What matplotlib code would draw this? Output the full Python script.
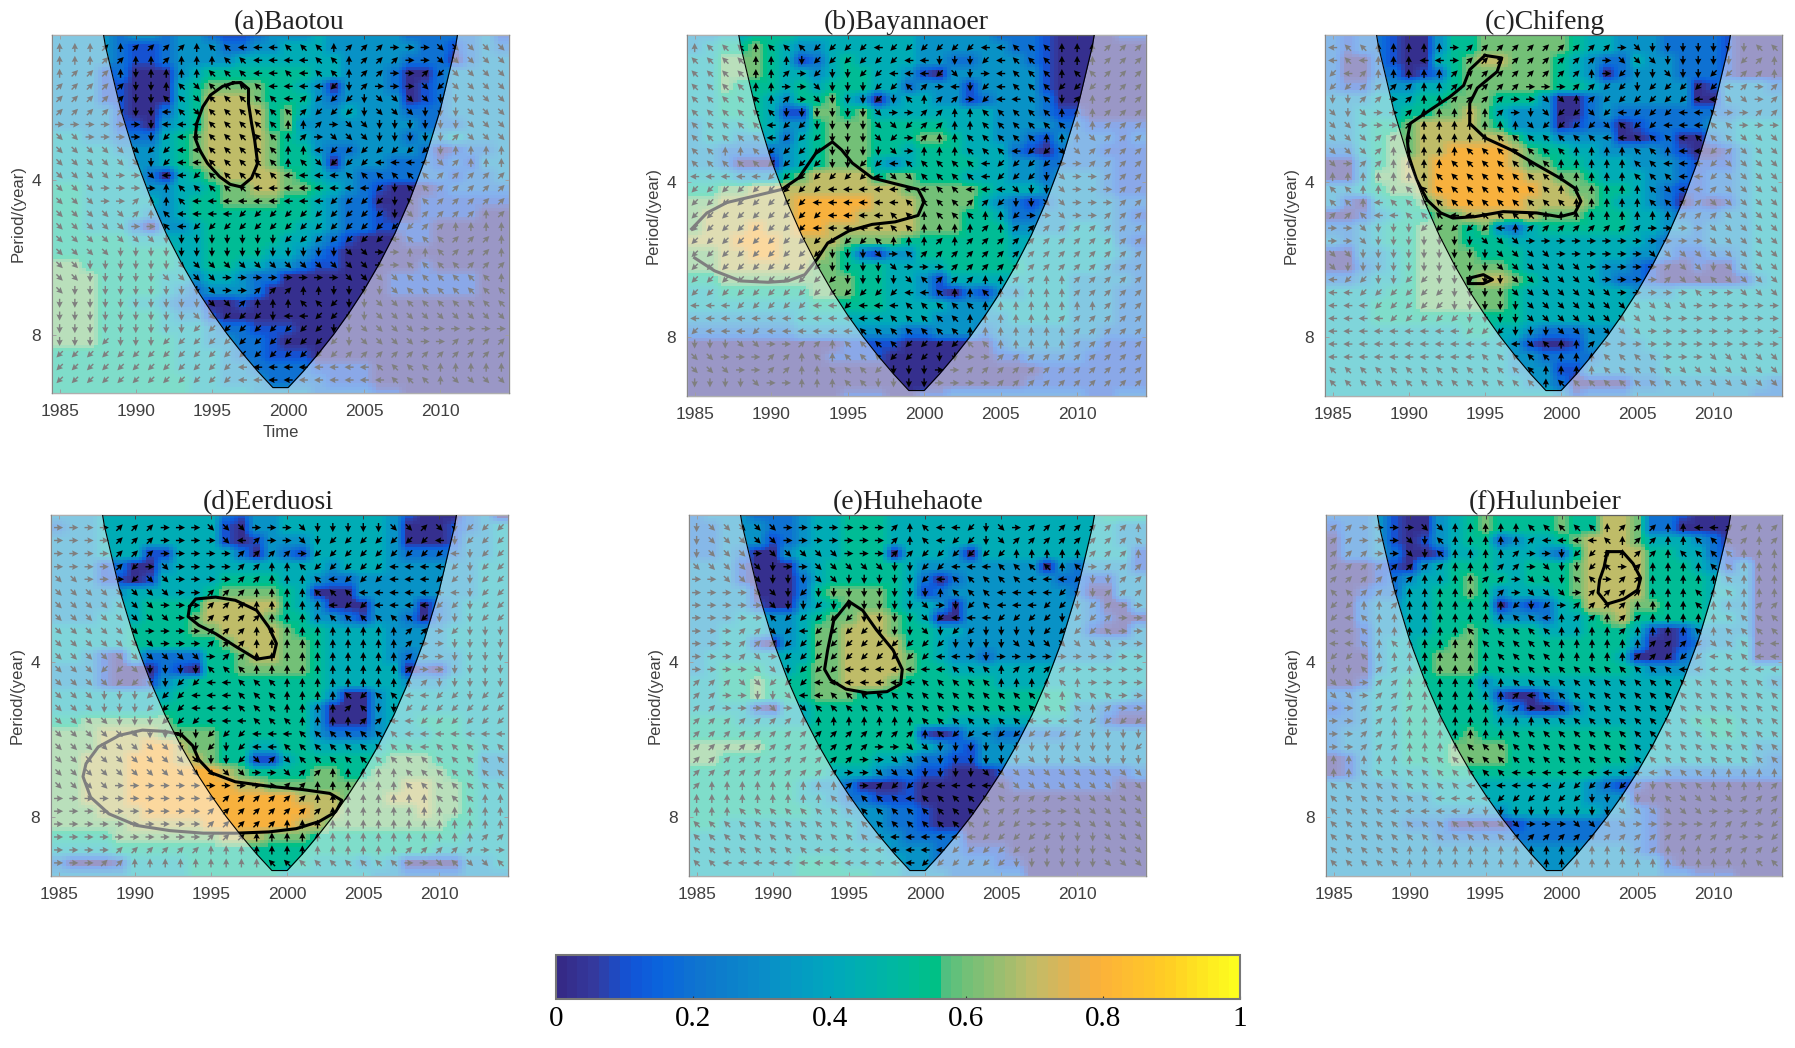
import numpy as np
import matplotlib
matplotlib.use('Agg')
import matplotlib.pyplot as plt
from matplotlib.colors import LinearSegmentedColormap

W, H = 1795, 1048

years = np.arange(1985, 2015)
# scale rows, top of the plot to the bottom
periods = [2.08, 2.20, 2.33, 2.47, 2.62, 2.77, 2.94, 3.11, 3.29, 3.49, 3.69, 3.91, 4.14, 4.39, 4.65,
           4.92, 5.21, 5.52, 5.85, 6.19, 6.56, 6.95, 7.36, 7.79, 8.25, 8.74, 9.26, 9.81, 10.40]
coi_years = [1984.5, 1985, 1986, 1987, 1988, 1989, 1990, 1991, 1992, 1993, 1994, 1995, 1996, 1997, 1998, 1999,
             2000, 2001, 2002, 2003, 2004, 2005, 2006, 2007, 2008, 2009, 2010, 2011, 2012, 2013, 2014, 2014.5]
coi_period = [0.5, 0.5, 0.73, 1.45, 2.18, 2.9, 3.63, 4.35, 5.08, 5.8, 6.53, 7.25, 7.98, 8.7, 9.43, 10.15,
              10.15, 9.43, 8.7, 7.98, 7.25, 6.53, 5.8, 5.08, 4.35, 3.63, 2.9, 2.18, 1.45, 0.73, 0.5, 0.5]

# coherence for each digit used in the heat rows below
digit_values = np.array([0.03, 0.1, 0.2, 0.32, 0.43, 0.53, 0.6, 0.7, 0.79, 0.9])

heat_a = ["33332 33233 21123 33433 33322 22231", "33332 11233 32233 44433 33332 21232",
          "33332 11233 33444 44443 33322 20233", "33312 00034 55555 55443 33200 23333",
          "33311 00045 66665 54303 33201 23333", "33311 00045 77765 55323 33301 23333",
          "33331 00245 77775 64334 33322 23333", "33331 10345 77775 63333 33332 22333",
          "44332 22456 77776 54333 33323 34333", "44443 33456 77776 55322 33332 01223",
          "44444 33456 77776 55403 33222 12133", "44444 42045 67777 65433 22222 21223",
          "55444 43344 56677 66543 21000 12222", "55444 44345 56666 55432 20001 11111",
          "55444 43345 55555 55432 21001 11100", "55444 20334 55555 54432 21111 00000",
          "55555 44444 55555 44321 00011 00000", "55555 55544 55554 43210 00000 00000",
          "66555 55544 55443 32110 00001 00000", "66655 55443 44322 00000 00111 11100",
          "66655 55432 33320 00000 00111 11100", "66655 44322 00100 00000 00000 00000",
          "66655 55433 10000 00000 00000 00000", "66655 55444 32211 10000 00000 00000",
          "66655 55544 33221 00000 00000 00000", "55555 55544 43221 11000 00000 00000",
          "55555 55544 43322 22111 10000 00000", "55555 55554 43332 22211 10000 00000",
          "55555 55554 44433 33222 21100 00000"]
heat_b = ["33445 55444 44444 33333 22210 00011", "34556 54334 44444 33333 32210 00000",
          "44666 54124 54444 33223 33210 00000", "44666 54434 55443 10333 33310 00000",
          "44655 54545 55442 33313 33310 00000", "44555 43556 43034 43312 33320 00000",
          "44555 41166 56444 44444 33321 10000", "34445 43356 66555 55444 33332 21111",
          "34433 42456 66555 66544 33213 22212", "33222 23456 66554 55544 42102 22111",
          "33200 03456 66434 55554 43322 22211", "44433 35677 77566 55544 43323 33211",
          "55667 77777 77776 66665 44433 33211", "66777 77888 88777 66664 32123 33322",
          "67777 77888 87777 66655 42233 33321", "67778 77887 77777 66655 53333 44322",
          "77788 87777 66665 55555 54444 44421", "66778 87776 52133 55555 54444 44432",
          "66777 77766 55544 44555 55444 44322", "55666 66666 65544 31444 44444 33332",
          "44555 55566 65544 31021 33444 33322", "44444 44455 55544 44333 44444 33322",
          "33333 33444 44444 43333 34444 33322", "22222 22333 33332 23332 33333 33222",
          "00000 00000 11110 00000 23333 22111", "00000 00001 11100 00000 11222 21111",
          "00000 00000 00000 00000 00011 11111", "00000 00000 00000 00000 00111 11111",
          "00000 00000 11100 11222 22222 21122"]
heat_c = ["21221 00355 66666 65443 33222 21000", "21221 00355 66666 65443 33222 21000",
          "20021 00456 77666 54322 43322 21000", "20022 01256 66666 54302 33322 21000",
          "21133 34456 66666 55433 33330 13332", "33344 45566 65553 00233 33330 03333",
          "33444 55667 64333 00232 22222 22333", "33455 67777 65333 01220 12222 33444",
          "33456 67777 77644 33330 01200 23444", "22456 67788 88765 54433 33210 01344",
          "00356 77888 88766 55444 33321 11344", "00366 77888 88877 66544 43321 22344",
          "33456 67888 88887 76655 43211 22344", "31045 56788 88877 77654 43201 01344",
          "00134 55667 77776 66555 44322 23344", "22345 56665 63245 55555 44332 33344",
          "32345 56665 55444 44444 43222 33344", "00334 56666 55544 44444 33211 22344",
          "00234 56666 66544 44433 21001 00344", "22344 56666 77654 44432 21000 00134",
          "44445 56666 66544 44444 33344 44444", "44455 56666 66544 44444 44444 44444",
          "44455 55555 55544 44444 44444 44444", "44444 44445 54432 22333 44444 44444",
          "44444 44444 44310 01333 34444 44444", "44444 44444 44332 22233 33444 44444",
          "44444 44444 44333 11333 33444 44444", "44444 44444 44433 20000 22333 33332",
          "44444 44444 44444 31222 33333 33322"]
heat_d = ["33344 44444 42133 44444 44310 00230", "23344 44444 41033 44444 44300 01234",
          "33344 44444 41013 33444 44300 01334", "33344 41144 44203 21444 44322 22334",
          "33312 00344 44444 44434 44333 33344", "33311 01444 45555 44322 33333 33344",
          "33333 44444 56666 54000 33333 33344", "33334 45555 77777 54300 03330 23444",
          "33344 45556 77776 55332 13320 23444", "44444 55556 67777 65544 44333 34444",
          "44444 55555 56777 66544 44333 34444", "44310 42222 55677 66544 44323 33444",
          "33310 00210 55666 66544 44401 03444", "33310 01345 55555 55544 44433 34444",
          "44444 44455 55555 55530 03444 44444", "44444 44555 55555 55300 03444 44444",
          "55666 66655 55555 55300 03445 55444", "66677 77666 65555 55322 23444 55444",
          "66677 78876 65544 55444 44555 55544", "66777 88877 65511 45555 55666 55533",
          "66777 88888 87655 55665 56666 65533", "66777 88888 88776 66666 66677 66544",
          "66777 88888 88888 87776 66777 66544", "66677 78888 88888 88776 66667 66544",
          "66666 77777 88888 87766 66666 65544", "55556 66666 67776 66555 55555 55444",
          "44445 55555 55555 55555 55555 44444", "20001 44445 55555 55444 34300 00334",
          "33333 44445 55555 44444 43322 22333"]
heat_e = ["23332 22344 55544 44444 44444 44555", "22333 22344 55544 44444 44444 44433",
          "22333 12344 55544 44444 44444 44433", "22320 03444 55504 44304 44444 44441",
          "33310 00345 55554 33333 33303 23331", "33310 00245 55554 20233 33332 21133",
          "33330 00256 66654 12333 33333 20033", "33331 00345 66654 43033 33333 32003",
          "33344 33456 67765 40033 33333 32100", "33444 33466 77765 54433 33333 31003",
          "33441 03466 77775 54333 33333 33333", "34444 44466 77776 54332 33333 33344",
          "34555 44566 77776 55444 44444 44444", "44556 55566 77765 55555 44444 44444",
          "44556 55566 65555 55555 55555 44443", "44441 04455 55555 55555 55555 33211",
          "55544 44455 55555 55444 44444 33100", "55555 55555 55555 10133 22222 33333",
          "66666 55555 55555 43213 33333 33333", "66555 55555 55443 22113 33333 33333",
          "55555 55554 44322 11000 11111 11112", "55555 55433 20001 00000 01111 11100",
          "55555 55443 22111 00000 00000 00000", "55555 55544 33322 10000 00000 00000",
          "55444 44444 43322 10000 00000 00000", "44444 44444 43332 22200 00000 00000",
          "44444 44444 44433 32211 10000 00000", "44444 44555 44443 32222 11000 00000",
          "44444 44555 55443 33222 22000 00000"]
heat_f = ["22231 00345 65555 65577 62210 00000", "12231 00345 65555 65577 62200 00000",
          "02231 01345 52344 56777 64443 20000", "02232 00144 54443 25777 75544 21000",
          "00011 03455 54455 56777 75554 31300", "00012 34456 55455 56777 75555 43300",
          "00122 44556 53444 56777 75555 44300", "00233 44555 50212 45777 66555 43300",
          "00233 44555 53332 44567 55555 44300", "00133 44556 55554 44555 41013 33300",
          "00134 45566 55555 55555 30012 33400", "00034 45666 55555 55554 00023 44400",
          "00034 45666 55555 55555 43333 44444", "00144 55555 34444 44444 44444 44443",
          "22344 55555 41002 34444 44444 44444", "12344 55555 53200 13444 44444 44444",
          "22344 55555 54444 44444 44445 55444", "23344 55556 55555 55555 44444 55444",
          "23344 55566 66555 55555 44444 44433", "01344 55566 66555 55555 44444 44432",
          "01344 44555 55555 55544 33222 22222", "33333 44444 44444 44321 10000 00000",
          "33333 33444 44444 44333 00000 00000", "33333 33333 33444 44433 21000 00000",
          "33333 22200 00122 22222 21000 00000", "33333 33222 22222 22222 21000 00000",
          "33333 33333 33333 33333 21000 00000", "33333 33333 33333 33333 33100 00000",
          "33333 33333 33333 33333 33221 11000"]

# phase per cell for rows 1..27, digit * 45 degrees counterclockwise from east
arrows_a = ["22212 11112 33444 33321 11000 77777", "22211 22122 23344 44332 11100 77777",
            "21112 62222 33344 34332 11001 57777", "11111 66237 33334 44456 10007 57777",
            "11111 66337 33333 41555 67777 66777", "11111 66437 33333 31555 67776 66777",
            "00000 06444 33333 22107 76666 66777", "77000 06544 33333 21077 76666 61777",
            "77777 75544 33333 22455 55555 62222", "77777 76544 33333 23755 54444 71222",
            "77770 07445 33333 44443 33333 11111", "77700 00233 33344 44444 45633 11111",
            "77700 12234 44444 44455 55633 11111", "77777 12344 44555 55555 55671 11121",
            "77777 00345 55555 55555 55551 12222", "77777 77666 66666 55555 55433 31112",
            "77776 66666 66666 66667 70022 31112", "77666 66677 77777 77777 70033 33111",
            "77666 66777 70000 00007 77733 33332", "76666 66666 70011 12266 66733 33333",
            "66666 66666 77122 23356 67733 33333", "66666 66667 75556 44556 67777 77777",
            "66666 66665 55555 55566 77770 00000", "66656 66555 55555 55556 77770 01111",
            "55555 55555 55555 55551 11111 11111", "55555 55555 55444 44444 43333 22222",
            "55555 55555 55444 44444 44333 27777"]
arrows_b = ["23332 33355 55455 55554 43332 22111", "33332 22655 55554 46665 43332 22111",
            "33332 21056 65544 45760 43332 33111", "33332 20076 66553 10465 43335 55111",
            "33333 21076 66563 21105 44336 12111", "33333 36666 66700 11223 33332 22111",
            "33333 45566 66775 11223 33333 22111", "33333 45556 66750 12233 33322 27111",
            "33223 55556 66670 22233 34557 71111", "33333 55556 65543 33334 55550 01111",
            "44444 55555 55477 33334 55567 00111", "55555 55554 44444 43344 47667 00011",
            "55555 55544 44443 33311 56677 00011", "55555 55554 44433 23332 25007 00111",
            "55555 55544 44433 22221 21111 11111", "55555 55555 55322 21211 11111 11111",
            "55555 55556 66703 11111 11111 11111", "55555 55556 66670 00111 11111 11111",
            "55555 55555 66667 31112 21122 11111", "55555 55555 55554 43223 22222 11111",
            "44455 55544 54443 33332 22222 22111", "44444 44444 44433 33322 22221 11111",
            "54445 44444 43333 33322 22222 11111", "66677 00112 33335 55533 22222 11111",
            "77000 11232 33355 56600 11111 11111", "77700 11223 33566 60011 11111 11111",
            "66667 00222 33666 60000 11111 11111"]
arrows_c = ["43322 22201 11111 11110 76666 66633", "43422 24401 11111 11107 77666 66512",
            "54122 22211 11111 11205 66766 55112", "55111 12211 11100 01155 65555 54101",
            "66110 12211 11007 72155 55554 47701", "76700 12222 21067 55754 55544 30011",
            "77000 12222 22275 55573 55444 33000", "77711 22222 23333 33344 33343 33777",
            "77712 22223 33333 32222 33244 51777", "70112 22233 33333 22222 33444 57777",
            "22222 22333 33333 22222 33344 57777", "33222 33333 33333 22222 23744 17777",
            "33243 33333 33333 32222 23311 77777", "11344 33344 33332 22222 22211 17777",
            "00766 65555 54211 11111 10000 77777", "00766 66666 77700 00000 00000 77777",
            "77666 66666 67777 00000 07777 77777", "76666 66666 67777 77000 00177 67777",
            "45566 55666 66777 77700 00177 37777", "44555 55566 66777 77770 00003 00777",
            "44455 55566 66677 77777 77770 00000", "44445 55556 66677 77777 77000 00000",
            "44444 44445 55666 77777 70000 00000", "44444 44444 44473 22100 00000 00000",
            "44444 44444 33333 22233 33000 77777", "33333 33333 33332 22233 33377 77777",
            "33333 33333 33332 33333 33333 77777"]
arrows_d = ["00001 11000 77700 07666 66771 76555", "00001 11000 07410 07655 55555 46555",
            "00001 11000 00111 10555 55555 54655", "00001 50700 00112 23555 55444 45655",
            "77000 57700 00112 22345 55444 55655", "77777 77700 11122 22333 44444 44655",
            "77777 77000 11122 22245 54444 55655", "77777 77700 11112 22233 33335 66655",
            "77777 70000 11122 22222 22211 05666", "77777 77000 11122 22222 22210 06666",
            "77777 77777 01122 22222 22210 06666", "77755 76666 33322 22222 22210 06666",
            "77775 56655 44333 22222 22221 66666", "77766 65554 44333 22223 53344 55655",
            "77766 65554 44333 22221 36655 55555", "77776 66555 44433 32222 11445 55555",
            "77777 76666 55544 43333 33344 44444", "77777 77766 56544 33333 33334 33333",
            "77777 77777 66571 73333 33333 33333", "77777 77777 77700 71122 22233 33333",
            "77770 00000 00000 11222 22233 33333", "00000 00000 01111 11222 22222 33322",
            "00000 00000 11111 11122 22222 22222", "00000 00000 11111 22222 22222 22222",
            "00000 00000 11122 22222 22222 22211", "00001 11111 22222 22222 22211 11100",
            "00011 22222 22223 33333 33300 73773"]
arrows_e = ["67777 70000 00012 34456 70111 11112", "67777 70000 00012 34556 71111 11113",
            "67770 77777 00011 55555 52222 21112", "77777 60077 77766 55444 33332 30111",
            "00777 66677 66666 54333 33444 56611", "00007 76566 66666 62333 44445 66111",
            "00000 76656 66666 70653 44455 65100", "00000 35555 56666 75444 55556 55100",
            "00011 75455 55666 76556 66655 55300", "00011 15555 55555 55666 67777 77700",
            "00017 05555 55555 54406 00000 00000", "00007 76555 44444 44333 21111 00000",
            "11177 55544 44444 33333 22223 20000", "11006 67443 33333 33333 33332 33300",
            "11000 70733 33333 33333 33333 32100", "11111 11222 22222 33333 33444 45555",
            "11111 11111 11111 23554 55555 56666", "11111 11111 11007 76666 66666 66665",
            "11111 11111 10077 76666 66766 77666", "11111 11111 00777 66667 77777 77777",
            "12222 22222 10155 54444 77777 77777", "22222 22223 33334 33333 31110 77777",
            "22233 33333 33333 33333 11000 77777", "33333 33333 33333 33335 55000 77777",
            "33333 33333 33444 44445 55556 66777", "33333 33344 44444 44555 55566 66777",
            "33444 44444 44444 55555 56666 66777"]
arrows_f = ["11000 07722 22233 33321 11224 41121", "11000 76322 22214 44432 11223 33121",
            "11100 76322 22100 65512 11233 33222", "11111 11122 21107 66530 12222 33222",
            "11111 12222 11077 63301 12222 23222", "33111 22222 21077 70111 12223 23222",
            "55221 22222 22565 01111 22223 22211", "54322 22222 22334 21121 12222 23333",
            "44322 22223 33333 22221 22223 23333", "44323 22222 33333 22222 21115 73344",
            "55322 22222 23333 22222 11555 43344", "66311 22222 23333 33333 33344 44444",
            "77011 22222 22333 33333 33333 33333", "77011 22222 22143 33333 33333 33333",
            "00111 12222 21100 33333 33333 33333", "00112 22222 22223 33333 33333 33333",
            "00112 22222 22333 33333 33333 33333", "00111 22223 33333 33333 33333 33333",
            "22222 23333 33333 33333 33333 33333", "22333 33333 33444 44444 44333 22222",
            "33333 33334 44444 55555 56333 22221", "33333 33444 45555 55666 66377 77111",
            "33334 44445 66666 66667 77777 00011", "33333 33333 37700 07777 00000 11105",
            "33333 33333 33111 11111 11111 11005", "33333 22222 22222 22222 11222 11115",
            "33333 22222 22222 22222 22222 22233"]

# significance outlines as (year, row)
sig_a = [[(1996.4, 3.73), (1995.7, 4.0), (1994.9, 4.7), (1994.4, 5.6), (1994.0, 6.9), (1993.9, 8.1), (1994.2, 9.0),
          (1994.7, 10.05), (1995.5, 11.1), (1996.2, 11.7), (1996.9, 11.9), (1997.6, 11.2), (1998.0, 10.05),
          (1997.8, 8.2), (1997.6, 6.9), (1997.4, 5.35), (1997.4, 4.2), (1996.9, 3.7), (1996.4, 3.73)]]
sig_b = [[(1984.8, 15.06), (1985.8, 13.8), (1987.1, 13.0), (1988.9, 12.5), (1990.7, 12.0), (1991.8, 11.1), (1992.9, 9.2),
          (1994.0, 8.3), (1994.6, 8.9), (1995.3, 9.95), (1996.6, 11.1), (1998.1, 11.55), (1999.6, 12.0), (2000, 12.9),
          (1999.6, 14.0), (1998.1, 14.5), (1996.6, 14.7), (1995.1, 15.2), (1993.7, 16.15), (1993, 17.4), (1992.2, 18.6),
          (1991.1, 19.1), (1989.8, 19.2), (1988, 19.1), (1986.3, 18.3), (1985, 17.3)]]
sig_c = [[(1995, 1.6), (1996.1, 1.8), (1995.8, 2.85), (1994.5, 4.1), (1994.0, 5.3), (1994.0, 6.85), (1995, 8.0),
          (1996.7, 8.9), (1998.4, 10.1), (1999.9, 11.1), (2000.9, 11.9), (2001.3, 12.9), (2000.9, 13.8), (1999.9, 14.1),
          (1998.4, 13.8), (1996.2, 13.7), (1994.3, 14.1), (1992.9, 14.2), (1992.1, 13.8), (1991.2, 12.8), (1990.5, 11.2),
          (1990, 9.4), (1989.9, 8.1), (1990.1, 6.85), (1991.4, 5.8), (1992.7, 4.8), (1993.6, 3.9), (1994, 2.7), (1995, 1.6)],
         [(1993.9, 18.9), (1994.9, 18.6), (1995.5, 19), (1994.9, 19.3), (1993.9, 19.3), (1993.9, 18.9)]]
sig_d = [[(1993.6, 7.1), (1994, 6.5), (1995.3, 6.35), (1996.6, 6.6), (1998, 7.4), (1998.8, 8.7), (1999.3, 10), (1999.1, 11),
          (1998, 11.2), (1996.6, 10.2), (1995.3, 9.2), (1994.2, 8.55), (1993.5, 7.9), (1993.6, 7.1)],
         [(1992.8, 17), (1992, 16.8), (1990.5, 16.7), (1989, 17.1), (1987.6, 18), (1986.8, 19.3), (1986.6, 20.3), (1987.1, 21.9),
          (1988.3, 23.2), (1990.1, 24.1), (1992.3, 24.5), (1994.5, 24.7), (1996.6, 24.7), (1998.8, 24.6), (2000.6, 24.35),
          (2002.1, 23.8), (2003.2, 23.05), (2003.6, 22.15), (2002.8, 21.6), (2001, 21.3), (1998.8, 21.05), (1996.6, 20.7),
          (1995, 20), (1994.2, 19), (1993.8, 17.9), (1993.1, 17.1), (1992.8, 17)]]
sig_e = [[(1995, 6.7), (1995.9, 7.4), (1996.8, 8.9), (1997.9, 10.5), (1998.5, 12), (1998.4, 13.1), (1997.5, 13.7), (1996.2, 13.8),
          (1994.8, 13.5), (1993.8, 12.8), (1993.4, 12), (1993.6, 10.5), (1994, 8.2), (1995, 6.7)]]
sig_f = [[(2003, 2.85), (2004, 2.85), (2004.7, 3.75), (2005.2, 4.9), (2005, 5.8), (2004.1, 6.5), (2003, 6.9), (2002.4, 6),
          (2002.5, 5.05), (2002.8, 4), (2003, 2.85)]]

titles = ['(a)Baotou', '(b)Bayannaoer', '(c)Chifeng', '(d)Eerduosi', '(e)Huhehaote', '(f)Hulunbeier']
title_shift = [9, -10, -9, -11, -9, -9]
heats = [heat_a, heat_b, heat_c, heat_d, heat_e, heat_f]
arrows = [arrows_a, arrows_b, arrows_c, arrows_d, arrows_e, arrows_f]
sigs = [sig_a, sig_b, sig_c, sig_d, sig_e, sig_f]
# left, right, top, bottom in pixels
boxes = [(52, 509, 35, 393), (687, 1146, 35, 396), (1325, 1782, 35, 396),
         (51, 508, 515, 876), (689, 1146, 515, 876), (1326, 1782, 515, 876)]

cmap = LinearSegmentedColormap.from_list('wtc', [
    (0, '#352a87'), (.05, '#343a9e'), (.1, '#1253d6'), (.15, '#0a66dd'), (.2, '#0f73cf'), (.3, '#0a8dc8'),
    (.4, '#00a7bd'), (.5, '#00b8a0'), (.56, '#00c184'), (.57, '#4fbf80'), (.6, '#70c078'), (.7, '#c0bc68'),
    (.75, '#deb455'), (.8, '#fcb13a'), (.9, '#ffcd24'), (1, '#fdfd1e')], N=64)


def to_grid(rows):
    grid = []
    for row in rows:
        row = row.replace(' ', '')[:30].ljust(30, row[-1])
        grid.append([int(c) for c in row])
    return np.array(grid)


def soften(z, n=4):
    # cells keep their shape but get the soft edges of the scanned figure
    fine = np.repeat(np.repeat(z, n, axis=0), n, axis=1)
    fine = np.pad(fine, ((1, 1), (0, 0)), mode='edge')
    fine = (fine[:-2, :] + fine[1:-1, :] + fine[2:, :]) / 3
    fine = np.pad(fine, ((0, 0), (1, 1)), mode='edge')
    fine = (fine[:, :-2] + fine[:, 1:-1] + fine[:, 2:]) / 3
    fx = 1984.5 + (np.arange(z.shape[1] * n) + 0.5) / n
    fy = 2 ** np.interp((np.arange(z.shape[0] * n) + 0.5) / n - 0.5, np.arange(len(periods)), np.log2(periods))
    return fx, fy, fine


def add_ax(box):
    l, r, t, b = box
    return fig.add_axes([l / W, 1 - b / H, (r - l) / W, (b - t) / H])


fig = plt.figure(figsize=(W / 100, H / 100), dpi=100)

for i in range(6):
    ax = add_ax(boxes[i])
    fx, fy, fz = soften(digit_values[to_grid(heats[i])])
    mesh = ax.pcolormesh(fx, fy, fz, cmap=cmap, vmin=0, vmax=1, shading='nearest', zorder=1)
    ang = np.deg2rad(to_grid(arrows[i]) * 45)
    X, Y = np.meshgrid(years, periods[1:28])
    ax.quiver(X, Y, np.cos(ang), np.sin(ang), angles='uv', units='inches', scale_units='inches', scale=11,
              width=0.014, headwidth=4.5, headlength=4.5, headaxislength=4, pivot='mid', color='k', zorder=3)
    for part in sigs[i]:
        yr = [p[0] for p in part]
        per = np.interp([p[1] for p in part], np.arange(29), periods)
        ax.plot(yr, per, color='k', lw=2.2, zorder=4)
    ax.fill_between(coi_years, coi_period, 12, color='white', alpha=0.5, lw=0, zorder=5)
    ax.plot(coi_years, coi_period, color='k', lw=0.8, zorder=6)

    ax.set_yscale('log', base=2)
    ax.set_xlim(1984.5, 2014.5)
    ax.set_ylim(10.4, 2.08)
    ax.set_xticks([1985, 1990, 1995, 2000, 2005, 2010])
    ax.set_yticks([4, 8])
    ax.set_yticklabels(['4', '8'])
    ax.minorticks_off()
    ax.tick_params(direction='in', length=3, width=0.7, top=True, right=True, color='#404040',
                   labelcolor='#404040', labelsize=12.5, pad=8)
    for lab in ax.get_xticklabels() + ax.get_yticklabels():
        lab.set_family('Liberation Sans')
    for s in ax.spines.values():
        s.set_color('#606060')
        s.set_linewidth(0.9)
    ax.set_ylabel('Period/(year)', fontsize=12, family='Liberation Sans', color='#404040', labelpad=4)
    if i == 0:
        ax.set_xlabel('Time', fontsize=12, family='Liberation Sans', color='#404040', labelpad=4)
    left, right = boxes[i][0], boxes[i][1]
    ax.set_title(titles[i], family='Liberation Serif', fontsize=20, color='#222222', pad=4,
                 x=0.5 + title_shift[i] / (right - left))

cax = add_ax((556, 1240, 955, 999))
cb = fig.colorbar(mesh, cax=cax, orientation='horizontal')
cb.set_ticks([0, 0.2, 0.4, 0.6, 0.8, 1])
cb.set_ticklabels(['0', '0.2', '0.4', '0.6', '0.8', '1'])
cb.ax.tick_params(direction='in', length=2, width=0.8, color='#333333', labelsize=21, pad=5)
for lab in cb.ax.get_xticklabels():
    lab.set_family('Liberation Serif')
cb.outline.set_edgecolor('#777777')
cb.outline.set_linewidth(1.5)

fig.savefig('out.png', dpi=100)
